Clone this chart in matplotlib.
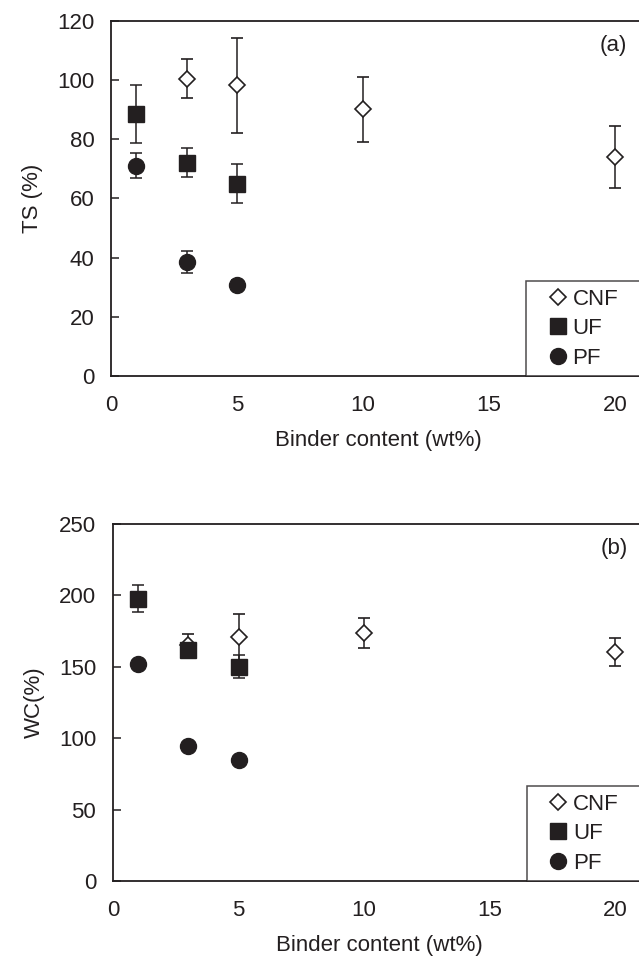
import matplotlib.pyplot as plt
from matplotlib.lines import Line2D

plt.rcParams['font.family'] = ['Liberation Sans', 'DejaVu Sans']
ink = '#231f20'

# Binder content (wt%) and measured values with standard deviation
cnf_x = [3, 5, 10, 20]
cnf_ts = [100.5, 98.2, 90.1, 74.1]
cnf_ts_err = [6.5, 16.0, 11.0, 10.4]
cnf_wc = [165.0, 171.0, 174.0, 160.5]
cnf_wc_err = [8.0, 16.0, 10.5, 10.0]

uf_x = [1, 3, 5]
uf_ts = [88.6, 72.1, 65.0]
uf_ts_err = [9.9, 4.8, 6.6]
uf_wc = [197.8, 162.0, 150.0]
uf_wc_err = [9.5, 5.0, 8.0]

pf_x = [1, 3, 5]
pf_ts = [71.0, 38.6, 30.8]
pf_ts_err = [4.2, 3.7, 1.8]
pf_wc = [152.0, 94.7, 84.5]
pf_wc_err = [3.0, 2.5, 2.5]

fig = plt.figure(figsize=(6.39, 9.69), dpi=100)
ax_a = fig.add_axes([0.1737, 0.612, 0.8363, 0.3664])
ax_b = fig.add_axes([0.1768, 0.0908, 0.8332, 0.3684])

cnf_style = dict(marker='D', markersize=8.5, markerfacecolor='white',
                 markeredgecolor=ink, markeredgewidth=1.2)
uf_style = dict(marker='s', markersize=11.5, markerfacecolor=ink,
                markeredgecolor=ink)
pf_style = dict(marker='o', markersize=11.5, markerfacecolor=ink,
                markeredgecolor=ink)


def draw_panel(ax, cnf, cnf_err, uf, uf_err, pf, pf_err):
    eb = dict(ecolor=ink, elinewidth=1.1, capsize=4.5, capthick=1.1,
              linestyle='none')
    ax.errorbar(cnf_x, cnf, yerr=cnf_err, zorder=2, **cnf_style, **eb)
    ax.errorbar(uf_x, uf, yerr=uf_err, zorder=3, **uf_style, **eb)
    ax.errorbar(pf_x, pf, yerr=pf_err, zorder=4, **pf_style, **eb)

    ax.set_xlim(0, 21.2)
    ax.set_xticks([0, 5, 10, 15, 20])
    ax.set_xlabel('Binder content (wt%)', fontsize=16, color=ink, labelpad=10)
    ax.tick_params(axis='x', length=0, pad=14, labelsize=16, colors=ink)
    ax.tick_params(axis='y', direction='in', length=6, width=1.1,
                   pad=12, labelsize=16, colors=ink)
    for side in ['left', 'bottom', 'top']:
        ax.spines[side].set_linewidth(1.3)
        ax.spines[side].set_color(ink)
    ax.spines['right'].set_visible(False)

    # legend shows plain markers, no error bars
    handles = [Line2D([], [], linestyle='none', **cnf_style),
               Line2D([], [], linestyle='none', **uf_style),
               Line2D([], [], linestyle='none', **pf_style)]
    leg = ax.legend(handles, ['CNF', 'UF', 'PF'], loc='lower left',
                    bbox_to_anchor=(0.777, 0.0, 0.3, 0.3), mode='expand',
                    borderaxespad=0, fontsize=16, frameon=True, fancybox=False,
                    edgecolor=ink, handlelength=2.2, handletextpad=-0.45,
                    labelspacing=0.38, borderpad=0.33)
    leg.get_frame().set_linewidth(1.1)
    for text in leg.get_texts():
        text.set_color(ink)


draw_panel(ax_a, cnf_ts, cnf_ts_err, uf_ts, uf_ts_err, pf_ts, pf_ts_err)
ax_a.set_ylim(0, 120)
ax_a.set_yticks(range(0, 121, 20))
ax_a.set_ylabel('TS (%)', fontsize=16, color=ink, labelpad=10)
ax_a.text(0.915, 0.915, '(a)', transform=ax_a.transAxes, fontsize=16, color=ink)

draw_panel(ax_b, cnf_wc, cnf_wc_err, uf_wc, uf_wc_err, pf_wc, pf_wc_err)
ax_b.set_ylim(0, 250)
ax_b.set_yticks(range(0, 251, 50))
ax_b.set_ylabel('WC(%)', fontsize=16, color=ink, labelpad=10)
ax_b.text(0.915, 0.915, '(b)', transform=ax_b.transAxes, fontsize=16, color=ink)

plt.savefig('out.png', dpi=100)
